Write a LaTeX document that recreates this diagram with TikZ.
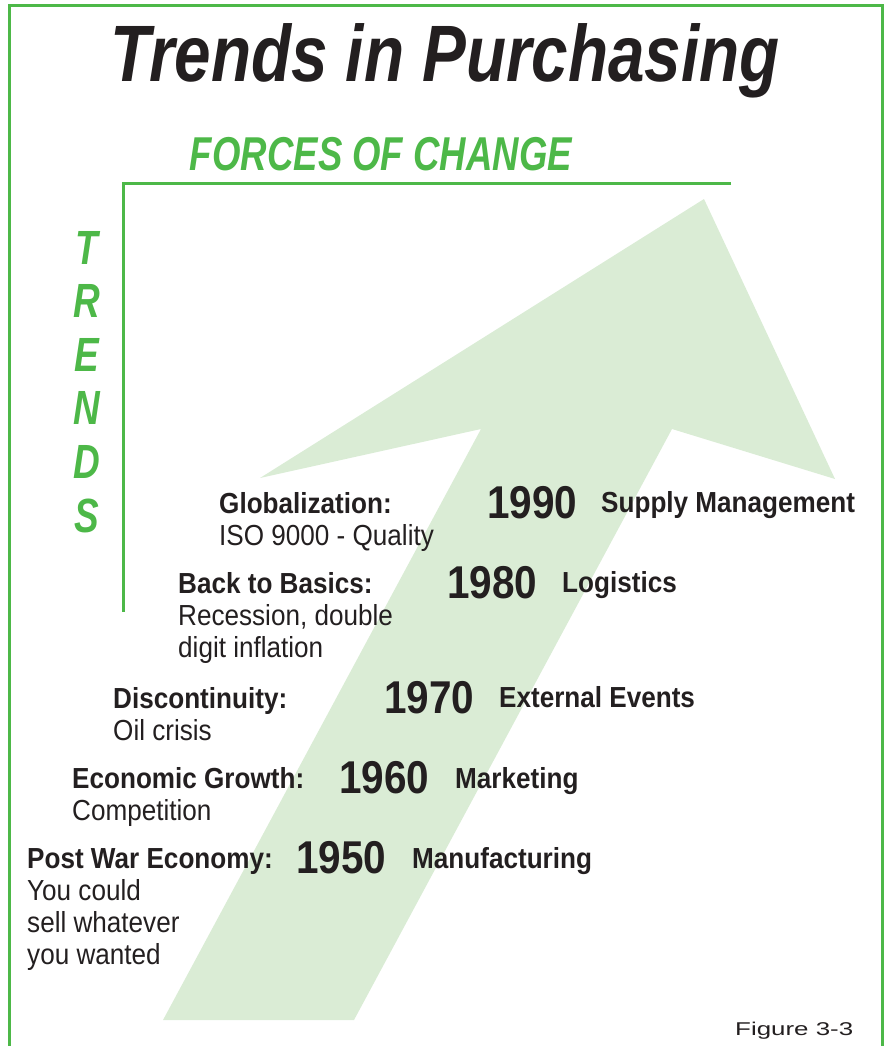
\documentclass[tikz,border=0pt]{standalone}
\usepackage{fontspec}
\setmainfont{Liberation Sans}
\newfontfamily\titlefont[FakeStretch=0.82]{Liberation Sans}
\newfontfamily\greenfont[FakeStretch=0.77]{Liberation Sans}
\newfontfamily\condfont[FakeStretch=0.9]{Liberation Sans}
\newfontfamily\yearfont[FakeStretch=0.88]{Liberation Sans}
\newfontfamily\widefont[FakeStretch=1.4]{Liberation Sans}

\definecolor{framegreen}{RGB}{77,184,72}
\definecolor{arrowgreen}{RGB}{218,236,213}
\definecolor{inkblack}{RGB}{35,31,32}

\tikzset{
    txt/.style={inner sep=0pt, anchor=base west, text=inkblack},
    label/.style={txt, align=left, font=\condfont\fontsize{29}{32}\selectfont},
    trend/.style={txt, font=\condfont\bfseries\fontsize{29}{32}\selectfont},
    year/.style={txt, font=\yearfont\bfseries\fontsize{46}{46}\selectfont},
    greentxt/.style={inner sep=0pt, anchor=base, text=framegreen,
        font=\greenfont\bfseries\itshape\fontsize{48}{48}\selectfont}
}

\begin{document}
\begin{tikzpicture}[x=1pt,y=-1pt]
    \useasboundingbox (0,0) rectangle (884,1046);
    \clip (0,0) rectangle (884,1046);
    % Frame
    \draw[framegreen, line width=3pt] (9.5,5.5) rectangle (882.5,1080);
    % Big arrow
    \fill[arrowgreen] (163,1020) -- (481,429) -- (260,478) -- (704,199)
        -- (835,479) -- (672,429) -- (354,1020) -- cycle;
    % Axes
    \draw[framegreen, line width=3pt] (731,183) -- (123,183) -- (123,612);
    % Title
    \node[inner sep=0pt, anchor=base, text=inkblack,
        font=\titlefont\bfseries\itshape\fontsize{80}{80}\selectfont]
        (title) at (445,82) {Trends in Purchasing};
    \node[greentxt, font=\greenfont\bfseries\itshape\fontsize{47.5}{48}\selectfont]
        (forces) at (381,170) {FORCES OF CHANGE};
    % Vertical TRENDS
    \foreach \ch [count=\i from 0] in {T,R,E,N,D,S}
        \node[greentxt] (trends\i) at (87,264+53.6*\i) {\ch};
    % 1990 (labels sit on the baseline of their last line)
    \node[label] (glob) at (219,545) {\textbf{Globalization:}\\ISO 9000 - Quality};
    \node[year] (y1990) at (487,518) {1990};
    \node[trend] (supply) at (601,512) {Supply Management};
    % 1980
    \node[label] (basics) at (178,657) {\textbf{Back to Basics:}\\Recession, double\\digit inflation};
    \node[year] (y1980) at (447,598) {1980};
    \node[trend] (logist) at (562,592) {Logistics};
    % 1970
    \node[label] (discont) at (113,740) {\textbf{Discontinuity:}\\Oil crisis};
    \node[year] (y1970) at (384,713) {1970};
    \node[trend] (extern) at (499,707) {External Events};
    % 1960
    \node[label] (growth) at (72,820) {\textbf{Economic Growth:}\\Competition};
    \node[year] (y1960) at (339,793) {1960};
    \node[trend] (market) at (455,788) {Marketing};
    % 1950
    \node[label] (postwar) at (27,964) {\textbf{Post War Economy:}\\You could\\sell whatever\\you wanted};
    \node[year] (y1950) at (296,873) {1950};
    \node[trend] (manuf) at (412,868) {Manufacturing};
    % Caption
    \node[txt, font=\widefont\fontsize{18.5}{18.5}\selectfont] (fig) at (735,1035) {Figure 3-3};
\end{tikzpicture}
\end{document}
